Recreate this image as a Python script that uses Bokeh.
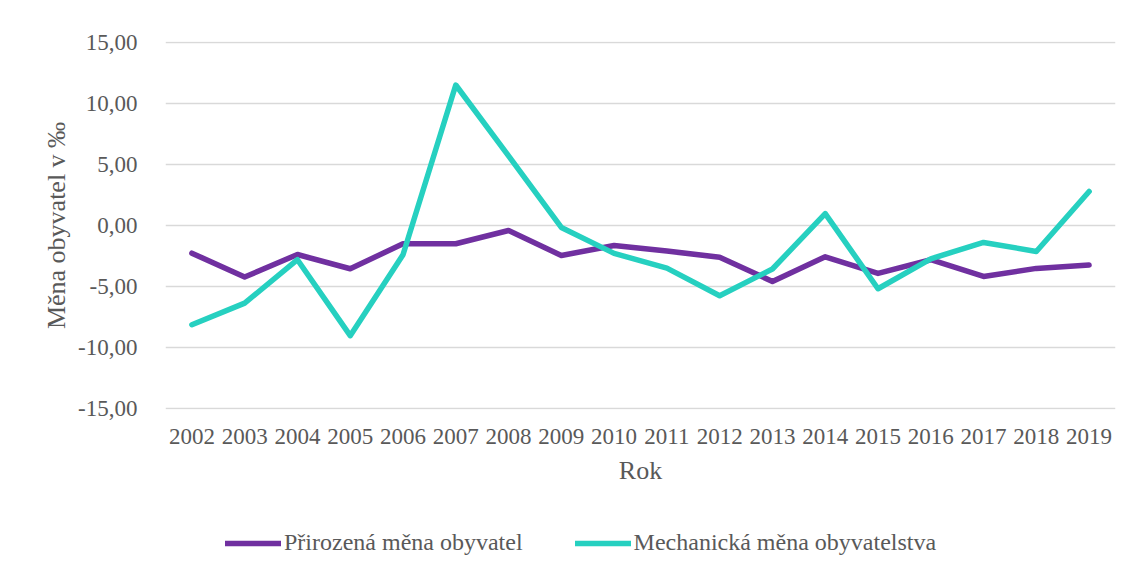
from bokeh.plotting import figure
from bokeh.layouts import column
from bokeh.models import FactorRange, Range1d, Legend, LegendItem, CustomJSTickFormatter, FixedTicker
from bokeh.embed import file_html
from bokeh.resources import INLINE

years = [str(y) for y in range(2002, 2020)]
prirozena = [-2.27, -4.23, -2.38, -3.55, -1.50, -1.50, -0.41, -2.46, -1.64, -2.10,
             -2.60, -4.59, -2.57, -3.93, -2.81, -4.18, -3.52, -3.25]
mechanicka = [-8.14, -6.37, -2.81, -9.04, -2.40, 11.53, 5.71, -0.16, -2.29, -3.50,
              -5.76, -3.57, 0.98, -5.19, -2.73, -1.39, -2.13, 2.79]
y_ticks = [-15, -10, -5, 0, 5, 10, 15]
series_names = ["Přirozená měna obyvatel", "Mechanická měna obyvatelstva"]
colors = ["#7030A0", "#26D0C0"]

FONT = "Liberation Serif"
TXT = "#595959"

p = figure(x_range=FactorRange(*years), y_range=(-15.1, 15.1),
           width=1131, height=509, output_backend="svg", toolbar_location=None,
           min_border_left=165, min_border_right=16, min_border_top=41, min_border_bottom=100)
p.x_range.range_padding = 0
p.outline_line_color = None

p.line(years, prirozena, line_color=colors[0], line_width=5.5, line_cap="round", line_join="round")
p.line(years, mechanicka, line_color=colors[1], line_width=5.5, line_cap="round", line_join="round")

p.xgrid.grid_line_color = None
p.ygrid.grid_line_color = "#d9d9d9"
p.ygrid.grid_line_width = 1.5

p.yaxis.ticker = FixedTicker(ticks=y_ticks)
p.yaxis.formatter = CustomJSTickFormatter(code="return tick.toFixed(2).replace('.', ',');")
for ax in (p.xaxis[0], p.yaxis[0]):
    ax.axis_line_color = None
    ax.major_tick_line_color = None
    ax.minor_tick_line_color = None
    ax.major_label_text_font = FONT
    ax.major_label_text_font_size = "23px"
    ax.major_label_text_color = TXT
    ax.axis_label_text_font = FONT
    ax.axis_label_text_font_size = "26px"
    ax.axis_label_text_color = TXT
    ax.axis_label_text_font_style = "normal"

p.yaxis.axis_label = "Měna obyvatel v ‰"
p.yaxis.major_label_standoff = 22
p.yaxis.axis_label_standoff = 4
p.xaxis.axis_label = "Rok"
p.xaxis.major_label_standoff = 13
p.xaxis.axis_label_standoff = 9

# legend strip: same series, drawn out of view, only their legend is shown
p2 = figure(x_range=FactorRange(*years), y_range=Range1d(100, 101),
            width=1131, height=63, output_backend="svg", toolbar_location=None,
            x_axis_location=None, y_axis_location=None, min_border=0)
p2.outline_line_color = None
p2.grid.grid_line_color = None
l1 = p2.line(years, prirozena, line_color=colors[0], line_width=5.5, line_cap="round")
l2 = p2.line(years, mechanicka, line_color=colors[1], line_width=5.5, line_cap="round")

legend = Legend(items=[LegendItem(label=series_names[0], renderers=[l1]),
                       LegendItem(label=series_names[1], renderers=[l2])],
                orientation="horizontal", location=(60, 16),
                label_text_font=FONT, label_text_font_size="24px", label_text_color=TXT,
                glyph_width=56, glyph_height=20, spacing=52, label_standoff=3,
                border_line_color=None, background_fill_alpha=0, margin=0, padding=4)
p2.add_layout(legend, "center")

open("out.html", "w").write(file_html(column(p, p2, spacing=0), INLINE))
